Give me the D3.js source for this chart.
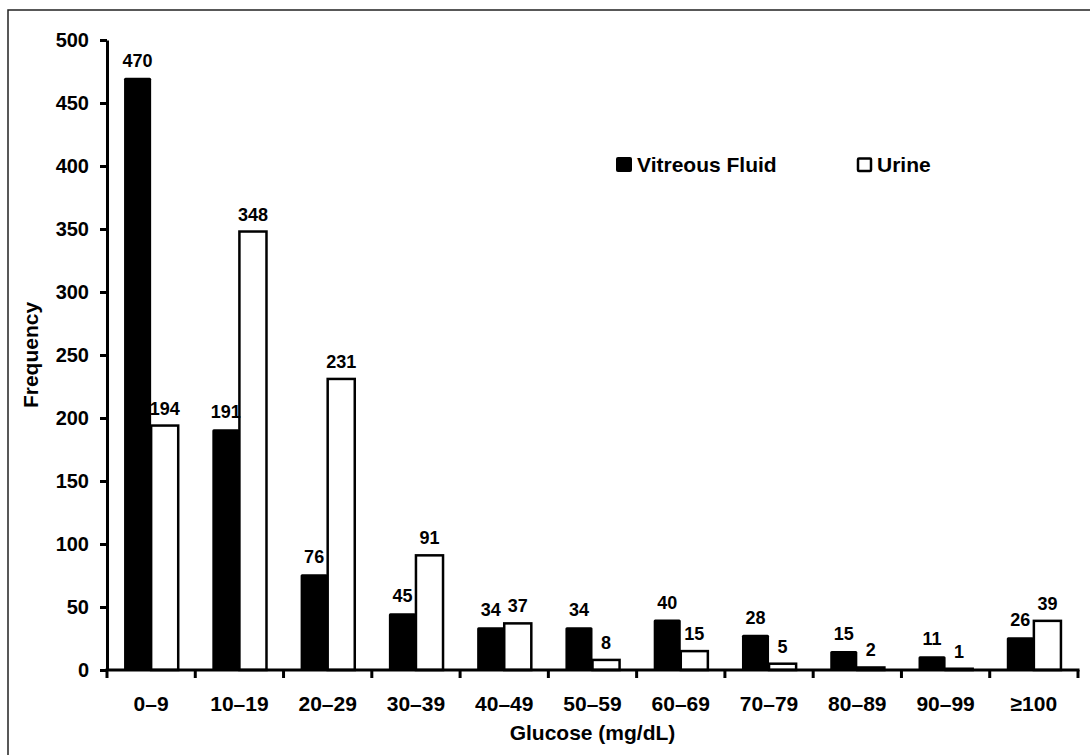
<!DOCTYPE html>
<html>
<head>
<meta charset="utf-8">
<script src="https://cdn.jsdelivr.net/npm/d3@7"></script>
<style>
  body { margin: 0; background: #fff; }
  text { font-family: "Liberation Sans", Arial, sans-serif; font-weight: bold; fill: #000; }
</style>
</head>
<body>
<script>
// data
const categories = ["0–9", "10–19", "20–29", "30–39", "40–49", "50–59", "60–69", "70–79", "80–89", "90–99", "≥100"];
const vitreous = [470, 191, 76, 45, 34, 34, 40, 28, 15, 11, 26];
const urine = [194, 348, 231, 91, 37, 8, 15, 5, 2, 1, 39];
const yTicks = [0, 50, 100, 150, 200, 250, 300, 350, 400, 450, 500];
const seriesNames = ["Vitreous Fluid", "Urine"];

const width = 1090, height = 755;
const plot = { left: 107, right: 1078, top: 40, bottom: 670 };

const svg = d3.select("body").append("svg")
  .attr("width", width)
  .attr("height", height);

svg.append("rect").attr("width", width).attr("height", height).attr("fill", "#fff");

// outer frame (runs past the right and bottom edges)
svg.append("rect")
  .attr("x", 8).attr("y", 10)
  .attr("width", 1200).attr("height", 800)
  .attr("fill", "none")
  .attr("stroke", "#222")
  .attr("stroke-width", 1.5);

const x0 = d3.scaleBand().domain(categories).range([plot.left, plot.right]).padding(0);
const x1 = d3.scaleBand().domain(seriesNames).range([0, x0.bandwidth()]).paddingInner(0).paddingOuter(0.63);
const y = d3.scaleLinear().domain([0, 500]).range([plot.bottom, plot.top]);

const rows = categories.map((c, i) => ({ cat: c, values: [
  { key: seriesNames[0], v: vitreous[i] },
  { key: seriesNames[1], v: urine[i] }
]}));

const groups = svg.selectAll(".grp")
  .data(rows)
  .enter().append("g")
  .attr("class", "grp")
  .attr("transform", d => `translate(${x0(d.cat)},0)`);

// bars
groups.selectAll("rect")
  .data(d => d.values)
  .enter().append("rect")
  .attr("x", d => x1(d.key))
  .attr("y", d => y(d.v))
  .attr("width", x1.bandwidth())
  .attr("height", d => y(0) - y(d.v))
  .attr("rx", d => d.key === seriesNames[0] ? 1.5 : 0)
  .attr("fill", d => d.key === seriesNames[0] ? "#000" : "#fff")
  .attr("stroke", d => d.key === seriesNames[0] ? "none" : "#000")
  .attr("stroke-width", 2.5);

// value labels
groups.selectAll(".val")
  .data(d => d.values)
  .enter().append("text")
  .attr("class", "val")
  .attr("x", d => x1(d.key) + x1.bandwidth() / 2)
  .attr("y", d => y(d.v) - 11)
  .attr("text-anchor", "middle")
  .style("font-size", "18px")
  .text(d => d.v);

// y axis
const yAxis = d3.axisLeft(y).tickValues(yTicks).tickSize(7).tickSizeOuter(0).tickPadding(11);
const gy = svg.append("g").attr("transform", `translate(${plot.left},0)`).call(yAxis);
gy.select(".domain").attr("stroke-width", 3);
gy.selectAll(".tick line").attr("stroke-width", 3);
gy.selectAll(".tick text").style("font-size", "20px").attr("font-family", null);

// x axis: labels at centres, ticks at category boundaries
const xAxis = d3.axisBottom(x0).tickSize(0).tickPadding(26);
const gx = svg.append("g").attr("transform", `translate(0,${plot.bottom})`).call(xAxis);
gx.select(".domain").remove();
gx.selectAll(".tick text").style("font-size", "21px").attr("font-family", null);

const bounds = categories.map(c => x0(c)).concat([x0(categories[categories.length - 1]) + x0.step()]);
svg.selectAll(".xtick")
  .data(bounds)
  .enter().append("line")
  .attr("class", "xtick")
  .attr("x1", d => d).attr("x2", d => d)
  .attr("y1", plot.bottom).attr("y2", plot.bottom + 8)
  .attr("stroke", "#000")
  .attr("stroke-width", 3);

svg.append("line")
  .attr("x1", plot.left - 1.5).attr("x2", plot.right + 1.5)
  .attr("y1", plot.bottom).attr("y2", plot.bottom)
  .attr("stroke", "#000")
  .attr("stroke-width", 3);

// axis titles
svg.append("text")
  .attr("transform", `translate(38,${(plot.top + plot.bottom) / 2}) rotate(-90)`)
  .attr("text-anchor", "middle")
  .style("font-size", "21px")
  .text("Frequency");

svg.append("text")
  .attr("x", (plot.left + plot.right) / 2)
  .attr("y", 740)
  .attr("text-anchor", "middle")
  .style("font-size", "21px")
  .text("Glucose (mg/dL)");

// legend
const legend = svg.append("g");
legend.append("rect")
  .attr("x", 616).attr("y", 157).attr("width", 16).attr("height", 15).attr("rx", 2)
  .attr("fill", "#000");
legend.append("text").attr("x", 637).attr("y", 172).style("font-size", "21px").text(seriesNames[0]);
legend.append("rect")
  .attr("x", 858).attr("y", 158.5).attr("width", 13).attr("height", 12.5).attr("rx", 1)
  .attr("fill", "#fff").attr("stroke", "#000").attr("stroke-width", 2.5);
legend.append("text").attr("x", 877).attr("y", 172).style("font-size", "21px").text(seriesNames[1]);
</script>
</body>
</html>
